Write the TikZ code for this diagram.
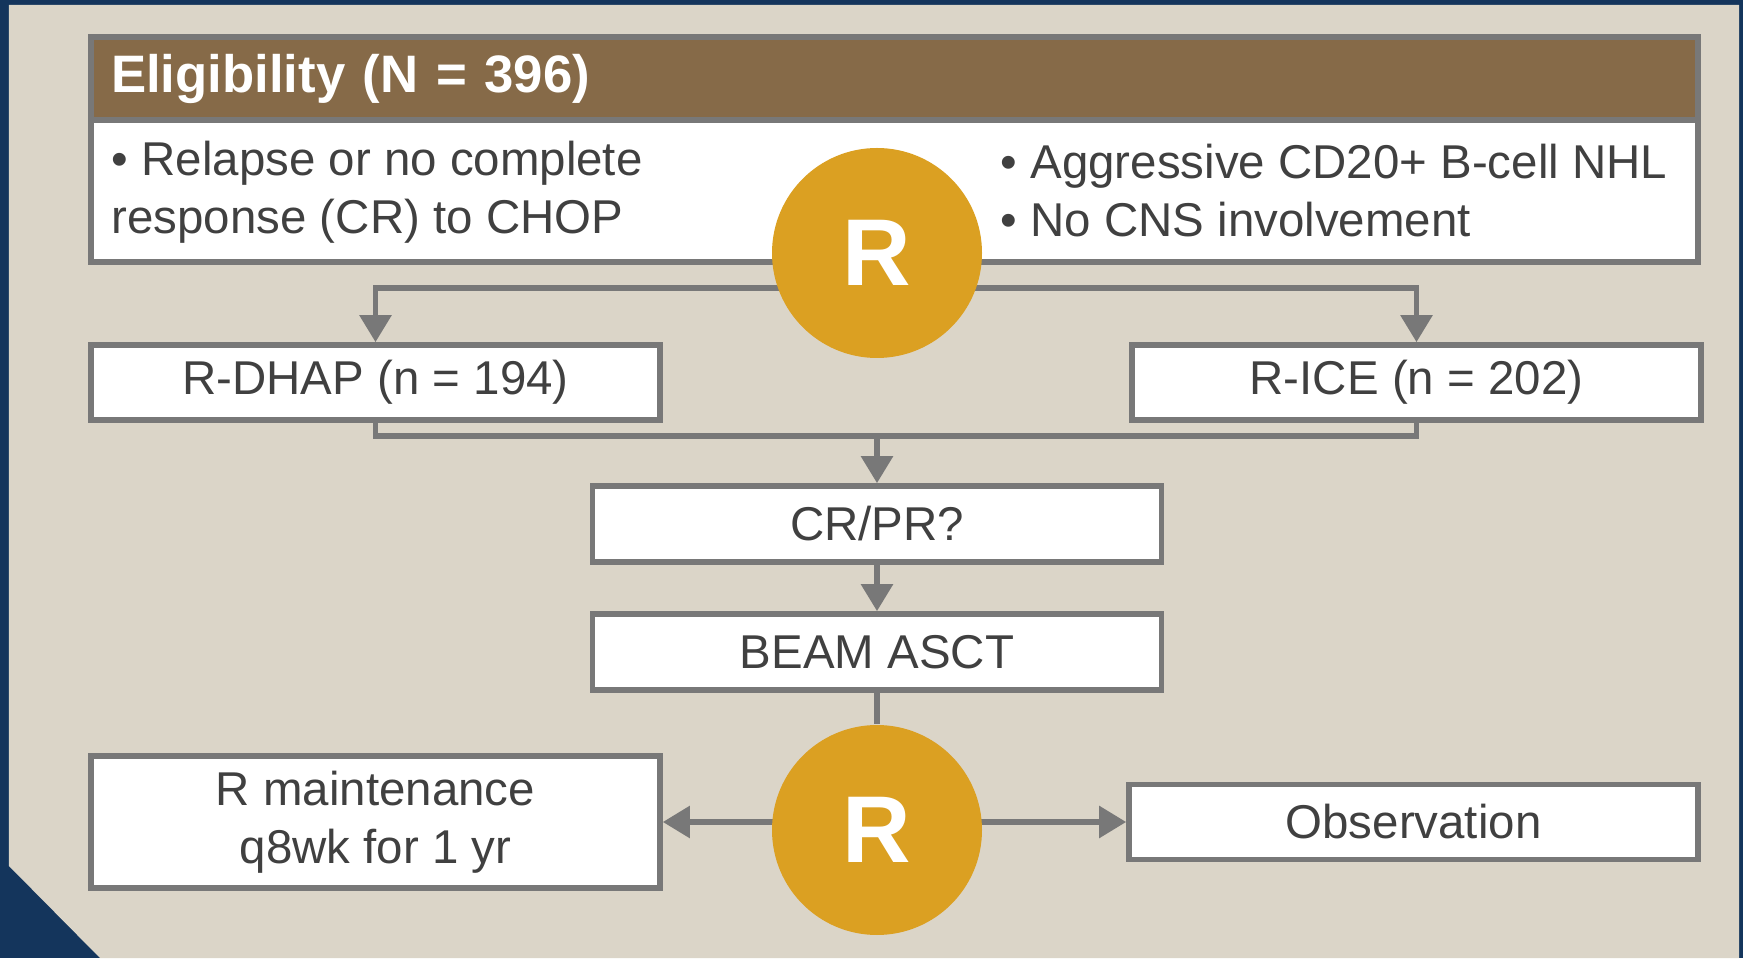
\documentclass[tikz,border=0pt]{standalone}
\usepackage{fontspec}
\setmainfont{Liberation Sans}
\usetikzlibrary{arrows.meta,backgrounds}
\definecolor{navy}{HTML}{14355C}
\definecolor{beige}{HTML}{DBD5C8}
\definecolor{hdrbrown}{HTML}{866A48}
\definecolor{gold}{HTML}{DBA022}
\definecolor{linegray}{HTML}{787878}
\definecolor{txtgray}{HTML}{404040}

\begin{document}
\begin{tikzpicture}
  \tikzset{box/.style = {shape=rectangle,draw=linegray,line width=1.6pt,fill=white,minimum width=5.69cm,minimum height=0.75cm,inner sep=0pt,text=txtgray,font=\fontsize{13.5}{16.5}\selectfont}}
  \tikzset{rand/.style = {shape=circle,fill=gold,minimum size=2.1cm,inner sep=0pt,text=white,font=\fontsize{27}{30}\selectfont\bfseries}}
  \tikzset{crit/.style = {anchor=west,align=left,inner sep=0pt,text=txtgray,font=\fontsize{13.5}{16.5}\selectfont}}
  \tikzset{link/.style = {draw=linegray,line width=1.6pt}}
  \tikzset{arr/.style = {link,-{Triangle[width=0.31cm,length=0.27cm]}}}

  \useasboundingbox (0,0) rectangle (17.43,9.58);
  \begin{scope}[on background layer]
    \fill[navy] (0,0) rectangle (17.43,9.58);
    \fill[beige] (0.09,9.53) -- (17.39,9.53) -- (17.39,0) -- (1.00,0) -- (0.09,0.92) -- cycle;
  \end{scope}

	% eligibility
	\node[box,fill=hdrbrown,minimum width=16.07cm,minimum height=0.83cm,text width=15.67cm,align=left,text=white,font=\fontsize{15}{18}\selectfont\bfseries] (elig) at (8.945,8.795) {\raisebox{-1.2pt}{Eligibility (N = 396)}};
	\node[box,minimum width=16.07cm,minimum height=1.42cm] (critbox) at (8.945,7.67) {};
	\node[crit] (critL) at (1.11,7.655) {• Relapse or no complete\\response (CR) to CHOP};
	\node[crit] (critR) at (10.00,7.675) {• Aggressive CD20+ B-cell NHL\\• No CNS involvement};

	\node[rand] (R1) at (8.77,7.05) {R};

	% arms
	\node[box] (dhap) at (3.755,5.755) {R-DHAP (n = 194)};
	\node[box] (rice) at (14.165,5.755) {R-ICE (n = 202)};

	\node[box,minimum height=0.76cm] (crpr) at (8.77,4.34) {CR/PR?};
	\node[box,minimum height=0.76cm] (beam) at (8.77,3.06) {BEAM ASCT};

	\node[rand] (R2) at (8.77,1.28) {R};

	\node[box,minimum height=1.32cm,align=center] (rmaint) at (3.755,1.36) {R maintenance\\q8wk for 1 yr};
	\node[box] (obs) at (14.135,1.36) {Observation};

	\coordinate (split) at (8.77,6.70);
	\coordinate (merge) at (8.77,5.22);

  \begin{scope}[on background layer]
    \path[arr] (split) -| (dhap);
    \path[arr] (split) -| (rice);
    \path[arr] (R2.center |- rmaint.east) -- (rmaint.east);
    \path[arr] (R2.center |- obs.west) -- (obs.west);
  \end{scope}

    \path[link] (dhap) |- (merge) -| (rice);
    \path[link] (beam) -- (R2);

       \foreach \from/\to in {merge/crpr, crpr/beam}
    \path[arr] (\from) -- (\to);

\end{tikzpicture}
\end{document}
